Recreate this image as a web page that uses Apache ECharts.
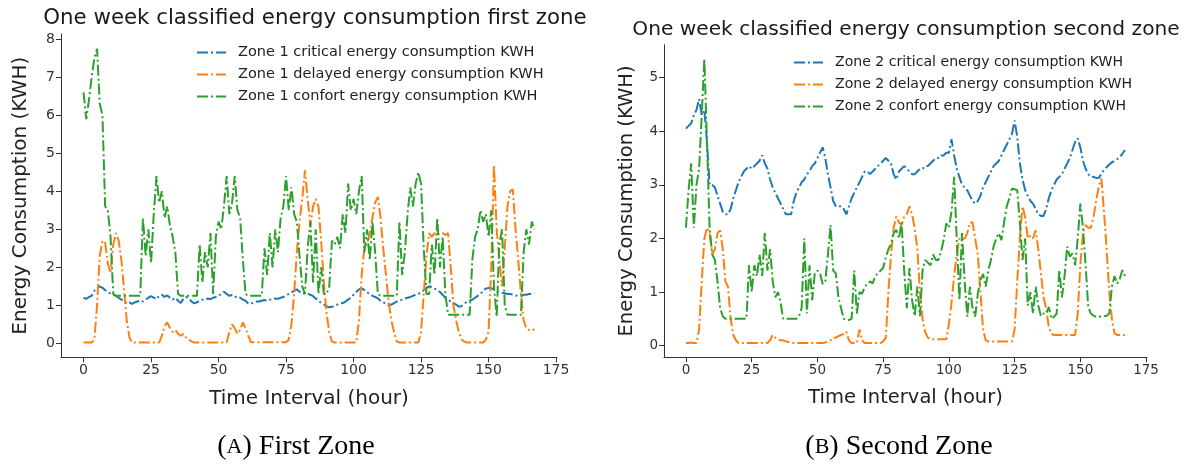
<!DOCTYPE html>
<html><head><meta charset="utf-8">
<script src="https://cdn.jsdelivr.net/npm/echarts@6/dist/echarts.min.js"></script>
<style>html,body{margin:0;padding:0;background:#fff}#c{width:1189px;height:465px}</style>
</head><body><div id="c"></div>
<script>
// ---------- data ----------
const hours = Array.from({length: 168}, (_, i) => i);
const xTicks = [0, 25, 50, 75, 100, 125, 150, 175];
const yTicksZone1 = [0, 1, 2, 3, 4, 5, 6, 7, 8];
const yTicksZone2 = [0, 1, 2, 3, 4, 5];

const z1Critical = [
1.20,1.17,1.22,1.25,1.38,1.45,1.50,1.46,1.40,1.36,
1.30,1.28,1.25,1.20,1.15,1.12,1.05,1.08,1.04,1.08,
1.10,1.14,1.10,1.15,1.20,1.24,1.20,1.16,1.25,1.28,
1.22,1.26,1.20,1.15,1.20,1.12,1.06,1.18,1.22,1.18,
1.10,1.05,1.08,1.12,1.15,1.14,1.18,1.16,1.20,1.22,
1.25,1.30,1.36,1.30,1.25,1.27,1.22,1.24,1.20,1.15,
1.12,1.05,1.04,1.08,1.10,1.10,1.12,1.14,1.12,1.15,
1.16,1.18,1.17,1.20,1.22,1.25,1.30,1.34,1.38,1.42,
1.36,1.30,1.32,1.30,1.28,1.24,1.18,1.12,1.06,1.02,
0.98,0.95,0.96,0.98,1.02,1.05,1.06,1.10,1.15,1.20,
1.28,1.35,1.42,1.45,1.40,1.34,1.30,1.25,1.22,1.18,
1.12,1.08,1.04,1.00,1.02,1.06,1.10,1.12,1.15,1.18,
1.20,1.22,1.25,1.28,1.30,1.34,1.40,1.46,1.50,1.48,
1.44,1.40,1.35,1.28,1.20,1.14,1.10,1.06,1.02,0.96,
0.98,1.04,1.10,1.12,1.15,1.20,1.25,1.30,1.38,1.44,
1.46,1.45,1.42,1.38,1.35,1.33,1.32,1.30,1.30,1.28,
1.26,1.25,1.26,1.28,1.28,1.30,1.30,1.31];

const z1Delayed = [
0.02,0.02,0.02,0.02,0.10,1.00,2.30,2.70,2.65,2.10,
1.85,2.60,2.90,2.70,2.20,1.40,0.60,0.15,0.02,0.02,
0.02,0.02,0.02,0.02,0.02,0.02,0.02,0.02,0.02,0.20,
0.45,0.55,0.40,0.30,0.35,0.25,0.20,0.25,0.15,0.10,
0.05,0.02,0.02,0.02,0.02,0.02,0.02,0.02,0.02,0.02,
0.02,0.02,0.02,0.02,0.30,0.50,0.40,0.25,0.35,0.55,
0.40,0.20,0.03,0.03,0.03,0.03,0.03,0.03,0.03,0.03,
0.03,0.03,0.03,0.03,0.03,0.03,0.10,0.50,1.30,2.40,
3.20,3.80,4.55,3.80,3.10,3.60,3.80,3.60,2.70,1.60,
0.80,0.30,0.05,0.02,0.02,0.02,0.02,0.02,0.02,0.02,
0.02,0.02,0.60,1.80,2.50,2.60,2.90,3.30,3.70,3.85,
3.30,2.50,1.80,1.10,0.60,0.30,0.05,0.02,0.02,0.02,
0.02,0.02,0.02,0.02,0.02,0.30,1.30,2.30,2.90,2.80,
2.90,2.85,2.90,2.90,2.85,2.90,2.00,1.00,0.60,0.30,
0.10,0.05,0.02,0.02,0.02,0.02,0.02,0.02,0.02,0.10,
0.30,2.00,4.70,3.00,2.20,1.50,2.50,3.60,4.00,4.05,
3.00,2.20,1.30,0.60,0.40,0.35,0.38,0.35];

const z1Comfort = [
6.60,5.90,6.40,7.00,7.50,7.75,6.30,6.00,3.60,3.50,
2.80,1.30,1.25,1.25,1.25,1.25,1.25,1.25,1.25,1.25,
1.25,1.25,3.30,2.30,3.00,2.10,3.40,4.40,3.70,4.00,
3.30,3.60,3.10,2.80,2.40,1.30,1.25,1.25,1.25,1.25,
1.25,1.25,1.25,2.60,1.60,2.40,2.00,2.90,1.30,2.80,
3.20,3.00,3.60,4.40,3.40,3.70,4.40,3.50,3.30,2.20,
1.30,1.25,1.25,1.25,1.25,1.25,1.25,2.50,1.80,2.90,
2.00,3.00,2.40,3.30,3.60,4.40,3.50,4.10,3.40,3.20,
2.30,1.50,1.30,2.50,3.20,1.60,3.00,1.30,2.00,1.30,
1.30,1.50,2.70,2.60,2.80,2.50,3.40,2.90,4.20,3.50,
3.80,3.40,4.00,4.40,2.40,3.00,2.20,3.20,2.40,1.30,
1.25,1.25,1.25,1.25,1.25,1.25,1.25,3.20,1.80,2.40,
3.40,4.10,3.60,4.20,4.50,4.20,2.50,1.30,1.30,2.60,
1.80,3.30,2.00,2.80,1.30,0.75,0.75,0.75,0.75,0.75,
0.75,0.75,0.75,0.75,2.20,2.80,3.00,3.50,3.20,3.40,
2.80,3.50,1.50,0.70,2.60,3.00,1.00,0.75,0.75,0.75,
0.75,0.75,0.75,2.40,3.00,2.60,3.20,3.00];

const z2Critical = [
4.05,4.10,4.15,4.30,4.40,4.60,4.30,4.40,3.80,3.00,
3.00,2.95,2.80,2.65,2.50,2.45,2.45,2.55,2.75,2.90,
3.05,3.15,3.25,3.30,3.35,3.30,3.35,3.40,3.45,3.55,
3.40,3.30,3.10,2.95,2.85,2.75,2.65,2.55,2.45,2.45,
2.45,2.70,2.85,2.95,3.05,3.10,3.20,3.25,3.35,3.40,
3.50,3.60,3.70,3.50,3.20,2.95,2.70,2.60,2.60,2.60,
2.55,2.45,2.60,2.75,2.85,2.95,3.05,3.15,3.25,3.25,
3.20,3.25,3.30,3.35,3.40,3.45,3.50,3.45,3.40,3.20,
3.10,3.25,3.30,3.35,3.30,3.25,3.20,3.20,3.25,3.30,
3.30,3.35,3.35,3.40,3.45,3.50,3.50,3.55,3.55,3.60,
3.60,3.85,3.55,3.30,3.15,3.00,2.95,2.90,2.80,2.70,
2.65,2.70,2.80,2.95,3.05,3.15,3.25,3.35,3.40,3.45,
3.55,3.65,3.75,3.85,3.95,4.20,3.90,3.40,3.10,2.90,
2.80,2.70,2.65,2.55,2.45,2.42,2.42,2.55,2.75,2.90,
3.00,3.10,3.15,3.20,3.30,3.40,3.50,3.65,3.80,3.87,
3.70,3.45,3.30,3.20,3.15,3.15,3.13,3.13,3.20,3.28,
3.33,3.38,3.42,3.45,3.48,3.52,3.58,3.65];

const z2Delayed = [
0.05,0.05,0.06,0.05,0.05,0.30,1.20,2.00,2.20,2.10,
1.70,1.80,2.10,2.15,1.80,1.20,1.10,0.50,0.20,0.10,
0.05,0.05,0.05,0.05,0.05,0.05,0.05,0.05,0.05,0.05,
0.05,0.05,0.10,0.20,0.15,0.12,0.10,0.10,0.08,0.07,
0.06,0.05,0.05,0.05,0.05,0.05,0.05,0.05,0.05,0.05,
0.05,0.05,0.05,0.06,0.08,0.10,0.15,0.15,0.18,0.20,
0.22,0.26,0.10,0.05,0.05,0.05,0.30,0.10,0.05,0.05,
0.05,0.05,0.05,0.05,0.05,0.08,0.15,1.00,1.70,2.20,
2.41,2.30,2.25,2.40,2.45,2.60,2.45,2.20,1.80,1.00,
0.50,0.25,0.15,0.12,0.12,0.12,0.12,0.12,0.12,0.12,
0.40,0.80,1.30,1.70,2.00,2.00,2.00,2.10,2.30,2.30,
2.00,1.70,1.00,0.30,0.10,0.08,0.08,0.08,0.08,0.08,
0.08,0.08,0.08,0.08,0.08,0.30,1.20,2.00,2.60,2.40,
2.00,2.05,2.00,2.15,1.80,1.35,0.90,0.70,0.35,0.22,
0.20,0.20,0.20,0.20,0.20,0.20,0.20,0.20,0.20,0.60,
1.50,2.10,2.25,2.20,2.20,2.40,2.70,2.97,3.12,2.50,
1.80,1.00,0.50,0.23,0.20,0.20,0.20,0.20];

const z2Comfort = [
2.20,2.90,3.40,2.20,3.00,3.30,4.30,5.35,3.80,2.20,
1.70,1.60,1.20,0.70,0.55,0.50,0.50,0.50,0.50,0.50,
0.50,0.50,0.50,0.50,1.50,1.00,1.50,1.30,1.70,1.30,
2.10,1.40,1.80,1.20,0.90,1.00,0.80,0.50,0.50,0.50,
0.50,0.50,0.50,0.55,0.70,2.00,0.60,1.50,0.85,1.35,
1.40,1.35,1.15,1.20,1.70,2.25,1.40,1.35,0.90,0.70,
0.50,0.48,0.48,0.50,1.40,0.60,1.00,0.97,1.10,1.15,
1.20,1.16,1.30,1.35,1.40,1.45,1.65,1.80,1.90,2.10,
2.16,2.00,2.30,1.40,0.70,1.45,0.85,0.55,1.10,0.55,
1.41,1.60,1.55,1.50,1.70,1.60,1.60,1.75,1.97,2.28,
2.20,2.50,3.15,1.97,0.85,2.10,1.20,0.54,1.10,0.70,
0.54,0.97,1.22,1.34,1.10,1.40,1.60,1.85,2.00,2.10,
1.97,2.30,2.60,2.75,2.93,2.92,2.90,2.30,1.60,2.00,
0.75,1.00,0.60,1.10,0.75,0.55,0.60,0.60,0.72,0.50,
0.54,0.60,1.41,0.90,1.30,1.85,1.66,1.72,1.50,2.00,
2.65,2.20,1.50,0.72,0.60,0.56,0.54,0.55,0.54,0.55,
0.56,0.60,1.10,1.30,1.16,1.25,1.41,1.30];

const names1 = ['Zone 1 critical energy consumption KWH','Zone 1 delayed energy consumption KWH','Zone 1 confort energy consumption KWH'];
const names2 = ['Zone 2 critical energy consumption KWH','Zone 2 delayed energy consumption KWH','Zone 2 confort energy consumption KWH'];
const titles = ['One week classified energy consumption first zone','One week classified energy consumption second zone'];

// ---------- chart ----------
const FONT = 'DejaVu Sans';
const colors = ['#1f77b4', '#ff7f0e', '#2ca02c'];
const dash = [11, 3, 2, 3];
const axisColor = '#333';

function pairs(arr) { return hours.map((h, i) => [h, arr[i]]); }

function xAxis(idx, fs, nfs) {
  return {
    gridIndex: idx, type: 'value', min: -8.35, max: 175.35,
    name: 'Time Interval (hour)', nameLocation: 'middle', nameGap: 31,
    nameTextStyle: {fontFamily: FONT, fontSize: nfs, color: '#222'},
    axisLine: {show: true, onZero: false, lineStyle: {color: axisColor, width: 1}},
    axisTick: {show: true, length: 5, customValues: xTicks, lineStyle: {color: axisColor}},
    axisLabel: {customValues: xTicks, fontFamily: FONT, fontSize: fs, color: '#333', margin: 6},
    splitLine: {show: false}
  };
}
function yAxis(idx, min, max, ticks, fs, nfs, gap) {
  return {
    gridIndex: idx, type: 'value', min: min, max: max,
    name: 'Energy Consumption (KWH)', nameLocation: 'middle', nameGap: gap,
    nameTextStyle: {fontFamily: FONT, fontSize: nfs, color: '#222'},
    axisLine: {show: true, onZero: false, lineStyle: {color: axisColor, width: 1}},
    axisTick: {show: true, length: 5, customValues: ticks, lineStyle: {color: axisColor}},
    axisLabel: {customValues: ticks, fontFamily: FONT, fontSize: fs, color: '#333', margin: 6},
    splitLine: {show: false}
  };
}
function line(name, arr, c, gi) {
  return {
    name: name, type: 'line', xAxisIndex: gi, yAxisIndex: gi,
    data: pairs(arr), symbol: 'none', showSymbol: false,
    lineStyle: {color: colors[c], width: 2, type: dash},
    itemStyle: {color: colors[c]}, animation: false
  };
}
function legend(names, left, top, fs) {
  return {
    data: names, orient: 'vertical', left: left, top: top,
    itemWidth: 29, itemHeight: 10, itemGap: 5,
    itemStyle: {opacity: 0},
    lineStyle: {type: dash, width: 2},
    textStyle: {fontFamily: FONT, fontSize: fs, color: '#222', lineHeight: 17, padding: [0, 0, 0, 7]}
  };
}

const chart = echarts.init(document.getElementById('c'));
chart.setOption({
  backgroundColor: '#fff',
  animation: false,
  grid: [
    {left: 61, right: 632, top: 34, bottom: 107.7},
    {left: 664, right: 42, top: 44.7, bottom: 107.8}
  ],
  xAxis: [xAxis(0, 14, 20), xAxis(1, 13.5, 19.5)],
  yAxis: [yAxis(0, -0.367, 8.137, yTicksZone1, 14, 20, 30), yAxis(1, -0.215, 5.615, yTicksZone2, 13.5, 19.5, 27)],
  legend: [legend(names1, 191, 39, 14.5), legend(names2, 788, 49, 14.1)],
  series: [
    line(names1[0], z1Critical, 0, 0), line(names1[1], z1Delayed, 1, 0), line(names1[2], z1Comfort, 2, 0),
    line(names2[0], z2Critical, 0, 1), line(names2[1], z2Delayed, 1, 1), line(names2[2], z2Comfort, 2, 1)
  ],
  graphic: [
    {type: 'text', x: 315, y: 18, style: {text: titles[0], font: '21.3px "DejaVu Sans"', fill: '#1a1a1a', textAlign: 'center', textVerticalAlign: 'middle'}},
    {type: 'text', x: 906, y: 30, style: {text: titles[1], font: '20.2px "DejaVu Sans"', fill: '#1a1a1a', textAlign: 'center', textVerticalAlign: 'middle'}},
    {type: 'text', x: 296, y: 447, style: {text: '{a|(}{s|A}{a|) First Zone}', textAlign: 'center', textVerticalAlign: 'middle',
      rich: {a: {fontFamily: 'Liberation Serif', fontSize: 28, fill: '#000'}, s: {fontFamily: 'Liberation Serif', fontSize: 22, fill: '#000'}}}},
    {type: 'text', x: 899, y: 447, style: {text: '{a|(}{s|B}{a|) Second Zone}', textAlign: 'center', textVerticalAlign: 'middle',
      rich: {a: {fontFamily: 'Liberation Serif', fontSize: 28, fill: '#000'}, s: {fontFamily: 'Liberation Serif', fontSize: 22, fill: '#000'}}}}
  ]
});
</script>
</body></html>
